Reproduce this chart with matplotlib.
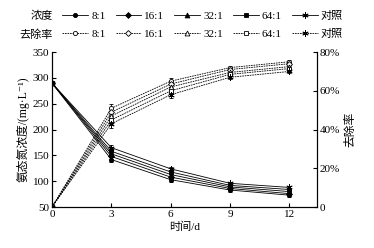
import numpy as np
import matplotlib.pyplot as plt
from matplotlib.ticker import FuncFormatter
from matplotlib.lines import Line2D

plt.rcParams['font.family'] = ['Liberation Serif', 'Noto Sans CJK SC', 'DejaVu Sans']
plt.rcParams['axes.unicode_minus'] = False
plt.rcParams['font.size'] = 8

days = [0, 3, 6, 9, 12]
names = ['8:1', '16:1', '32:1', '64:1', '对照']
# 氨态氮浓度 mg/L
conc_81 = [290, 142, 103, 83, 73]
conc_161 = [290, 148, 108, 86, 76]
conc_321 = [290, 153, 113, 89, 80]
conc_641 = [290, 158, 118, 92, 84]
conc_ck = [290, 165, 124, 96, 88]
# 去除率 (fraction)
rem_81 = [0, 0.51, 0.65, 0.72, 0.75]
rem_161 = [0, 0.49, 0.635, 0.71, 0.74]
rem_321 = [0, 0.47, 0.62, 0.695, 0.725]
rem_641 = [0, 0.45, 0.60, 0.685, 0.715]
rem_ck = [0, 0.43, 0.58, 0.67, 0.70]
conc_err = [3, 5, 4, 3, 3]
rem_err = [0.005, 0.02, 0.015, 0.01, 0.01]

conc = [conc_81, conc_161, conc_321, conc_641, conc_ck]
rem = [rem_81, rem_161, rem_321, rem_641, rem_ck]
marks = ['o', 'D', '^', 's', (6, 2, 0)]
msz = [3, 3, 3.5, 3.5, 4.5]

fig = plt.figure(figsize=(3.74, 2.48), dpi=100)
ax = fig.add_axes([0.139, 0.165, 0.709, 0.625])
ax2 = ax.twinx()

h1, h2 = [], []
for i in range(5):
    ax.errorbar(days, conc[i], yerr=conc_err, color='k', lw=0.6, elinewidth=0.6,
                capsize=1.5, marker=marks[i], ms=msz[i], mfc='k', mec='k', mew=0.6)
    ax2.errorbar(days, rem[i], yerr=rem_err, color='k', lw=0.6, ls=(0, (2, 1)),
                 elinewidth=0.6, capsize=1.5, marker=marks[i], ms=msz[i],
                 mfc='white', mec='k', mew=0.6)
    h1.append(Line2D([], [], color='k', lw=0.6, marker=marks[i], ms=msz[i],
                     mfc='k', mec='k', mew=0.6))
    h2.append(Line2D([], [], color='k', lw=0.6, ls=(0, (2, 1)), marker=marks[i],
                     ms=msz[i], mfc='white', mec='k', mew=0.6))

ax.set_xlim(0, 13.4)
ax.set_xticks(days)
ax.set_ylim(50, 350)
ax.set_yticks(range(50, 351, 50))
ax2.set_ylim(0, 0.8)
ax2.set_yticks([0, 0.2, 0.4, 0.6, 0.8])
ax2.yaxis.set_major_formatter(FuncFormatter(lambda v, p: '0' if v == 0 else '{:.0f}%'.format(v * 100)))

for a in (ax, ax2):
    a.spines['top'].set_visible(False)
    for s in a.spines.values():
        s.set_linewidth(0.8)
    a.tick_params(direction='in', length=3, width=0.8, pad=2)

ax.set_xlabel('时间/d', labelpad=2)
ax.set_ylabel('氨态氮浓度/(mg·L⁻¹)', labelpad=2, fontsize=8.5)
ax2.set_ylabel('去除率', labelpad=3, fontsize=8.5)

kw = dict(ncol=5, frameon=False, handlelength=2.3, handletextpad=0.3,
          columnspacing=0.9, fontsize=8, borderpad=0)
fig.legend(h1, names, loc='center left', bbox_to_anchor=(0.152, 0.935), **kw)
fig.legend(h2, names, loc='center left', bbox_to_anchor=(0.152, 0.862), **kw)
fig.text(0.14, 0.935, '浓度', ha='right', va='center', fontsize=8)
fig.text(0.14, 0.862, '去除率', ha='right', va='center', fontsize=8)

fig.savefig('out.png', dpi=100)
